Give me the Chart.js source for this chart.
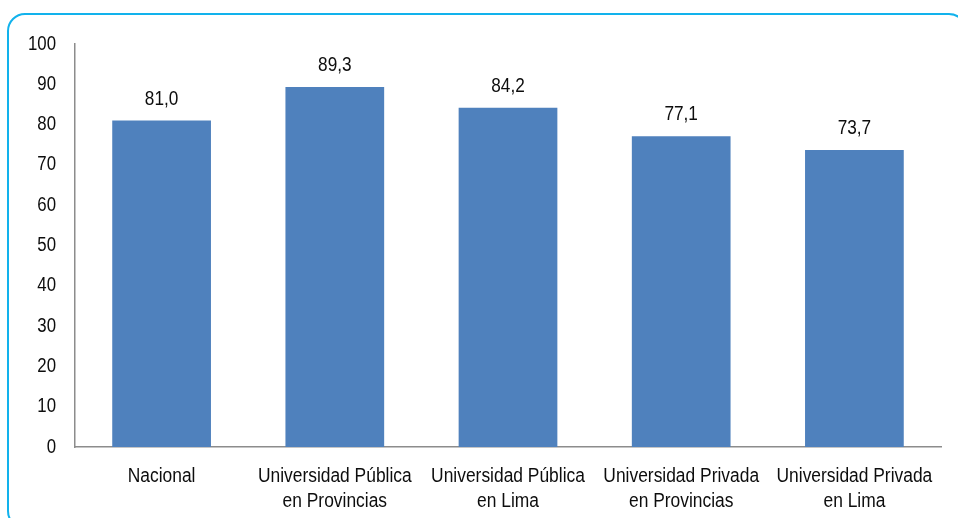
<!DOCTYPE html>
<html>
<head>
<meta charset="utf-8">
<script src="https://cdn.jsdelivr.net/npm/chart.js@4"></script>
<style>
  html, body { margin: 0; padding: 0; background: #fff; overflow: hidden; }
  #wrap { position: relative; width: 958px; height: 518px; overflow: hidden; }
  #frame {
    position: absolute; left: 7px; top: 13px; width: 956px; height: 512px;
    border: 2px solid #12B2EC; border-radius: 18px;
  }
  canvas { position: absolute; left: 0; top: 0; }
</style>
</head>
<body>
<div id="wrap">
  <div id="frame"></div>
  <canvas id="chart" width="958" height="518"></canvas>
</div>
<script>
const categories = [
    'Nacional',
    ['Universidad Pública', 'en Provincias'],
    ['Universidad Pública', 'en Lima'],
    ['Universidad Privada', 'en Provincias'],
    ['Universidad Privada', 'en Lima']
];
const values = [81.0, 89.3, 84.2, 77.1, 73.7];
const yTicks = [0, 10, 20, 30, 40, 50, 60, 70, 80, 90, 100];

// no Arial Narrow here, so squeeze Liberation Sans sideways
const FONT = "20px 'Liberation Sans', Arial, sans-serif";

function narrowText(ctx, text, x, y, align, baseline, squeeze) {
    ctx.save();
    ctx.translate(x, y);
    ctx.scale(squeeze, 1);
    ctx.font = FONT;
    ctx.fillStyle = '#0d0d0d';
    ctx.textAlign = align;
    ctx.textBaseline = baseline;
    ctx.fillText(text, 0, 0);
    ctx.restore();
}

const textLayer = {
    id: 'textLayer',
    afterDraw(chart) {
        const ctx = chart.ctx;
        const xs = chart.scales.x;
        const ys = chart.scales.y;

        yTicks.forEach(v => {
            narrowText(ctx, String(v), xs.left - 19, ys.getPixelForValue(v), 'right', 'middle', 0.84);
        });

        categories.forEach((lab, i) => {
            const lines = Array.isArray(lab) ? lab : [lab];
            const x = xs.getPixelForTick(i);
            lines.forEach((line, j) => {
                narrowText(ctx, line, x, ys.bottom + 35 + j * 25, 'center', 'alphabetic', 0.87);
            });
        });

        chart.getDatasetMeta(0).data.forEach((bar, i) => {
            narrowText(ctx, values[i].toFixed(1).replace('.', ','), bar.x, bar.y - 16, 'center', 'alphabetic', 0.86);
        });
    }
};

new Chart(document.getElementById('chart'), {
    type: 'bar',
    data: {
        labels: categories,
        datasets: [{
            data: values,
            backgroundColor: '#4F81BD',
            borderWidth: 0,
            barPercentage: 0.57,
            categoryPercentage: 1
        }]
    },
    options: {
        responsive: false,
        animation: false,
        layout: {
            autoPadding: false,
            padding: { left: 0, right: 17, top: 44, bottom: 0 }
        },
        plugins: {
            legend: { display: false },
            tooltip: { enabled: false }
        },
        scales: {
            y: {
                min: 0,
                max: 100,
                afterFit(scale) { scale.width = 75; },
                afterBuildTicks(scale) { scale.ticks = yTicks.map(v => ({ value: v })); },
                grid: { display: false, drawTicks: false },
                border: { display: true, color: '#8C8C8C', width: 1.5 },
                ticks: { display: false }
            },
            x: {
                afterFit(scale) { scale.height = 71; },
                grid: { display: false, drawTicks: false },
                border: { display: true, color: '#8C8C8C', width: 1.5 },
                ticks: { display: false }
            }
        }
    },
    plugins: [textLayer]
});
</script>
</body>
</html>
